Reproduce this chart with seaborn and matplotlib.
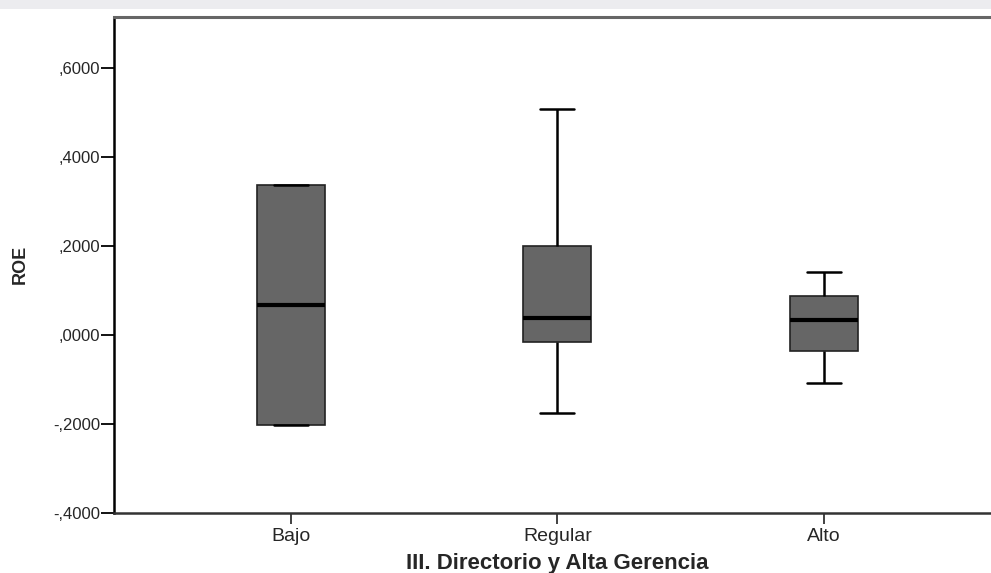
import numpy as np
import pandas as pd
import matplotlib
matplotlib.use("Agg")
import matplotlib.pyplot as plt
from matplotlib.ticker import FuncFormatter
from matplotlib.patches import Rectangle
import seaborn as sns

# Five-number summaries of ROE by level of "Directorio y Alta Gerencia"
categories = ["Bajo", "Regular", "Alto"]
roe_min = [-0.203, -0.177, -0.108]
roe_q1 = [-0.203, -0.017, -0.037]
roe_median = [0.067, 0.037, 0.032]
roe_q3 = [0.337, 0.200, 0.087]
roe_max = [0.337, 0.507, 0.142]
y_ticks = [-0.4, -0.2, 0.0, 0.2, 0.4, 0.6]

# One row per summary value; with whiskers spanning the full range the
# boxplot reproduces exactly these quartiles and extremes.
rows = []
for i, cat in enumerate(categories):
    for v in (roe_min[i], roe_q1[i], roe_median[i], roe_q3[i], roe_max[i]):
        rows.append({"grupo": cat, "ROE": v})
df = pd.DataFrame(rows)

sns.set_theme(style="white")
plt.rcParams["font.family"] = ["Liberation Sans", "DejaVu Sans"]

fig = plt.figure(figsize=(9.91, 5.73), dpi=100)
fig.patch.set_facecolor("white")
# light band along the top edge of the page
fig.patches.append(Rectangle((0, 1 - 9 / 573), 1, 9 / 573, transform=fig.transFigure,
                             facecolor="#ececef", edgecolor="none", zorder=0))

ax = fig.add_axes([114 / 991, 1 - 512.7 / 573, 1 - 114 / 991, (512.7 - 17) / 573])

sns.boxplot(data=df, x="grupo", y="ROE", order=categories, ax=ax,
            color="#666666", saturation=1, width=0.255, whis=(0, 100),
            linecolor="black", linewidth=1.6, fliersize=0,
            boxprops=dict(edgecolor="#222222", linewidth=1.2),
            medianprops=dict(color="black", linewidth=3),
            whiskerprops=dict(color="black", linewidth=1.8),
            capprops=dict(color="black", linewidth=1.8))

ax.set_xlim(-0.664, 2.627)
ax.set_ylim(-0.4, 0.714)
ax.set_yticks(y_ticks)


def fmt_spss(v, _pos):
    s = f"{abs(v):.4f}".lstrip("0").replace(".", ",")
    return ("-" if v < -1e-9 else "") + s


ax.yaxis.set_major_formatter(FuncFormatter(fmt_spss))
ax.tick_params(axis="y", direction="out", length=9.5, width=1.3, color="black",
               labelsize=12, pad=0.5, left=True)
ax.tick_params(axis="x", direction="out", length=8, width=1.3, color="#333333",
               labelsize=14, pad=3, bottom=True)

for side in ("left", "bottom"):
    ax.spines[side].set_visible(True)
    ax.spines[side].set_color("black")
    ax.spines[side].set_linewidth(1.8)
ax.spines["bottom"].set_color("#333333")
ax.spines["top"].set_visible(True)
ax.spines["top"].set_color("#666666")
ax.spines["top"].set_linewidth(2.2)
ax.spines["right"].set_visible(False)

ax.set_ylabel("ROE", fontsize=13, fontweight="bold", labelpad=0)
ax.yaxis.set_label_coords(-94 / 877, 0.5)
ax.set_xlabel("III. Directorio y Alta Gerencia", fontsize=16, fontweight="bold")
ax.xaxis.set_label_coords((557 - 114) / 877, -(564 - 512.7) / 495.7)
ax.xaxis.label.set_va("center")
ax.yaxis.label.set_va("center")
ax.grid(False)

fig.savefig("out.png", dpi=100, facecolor="white")
